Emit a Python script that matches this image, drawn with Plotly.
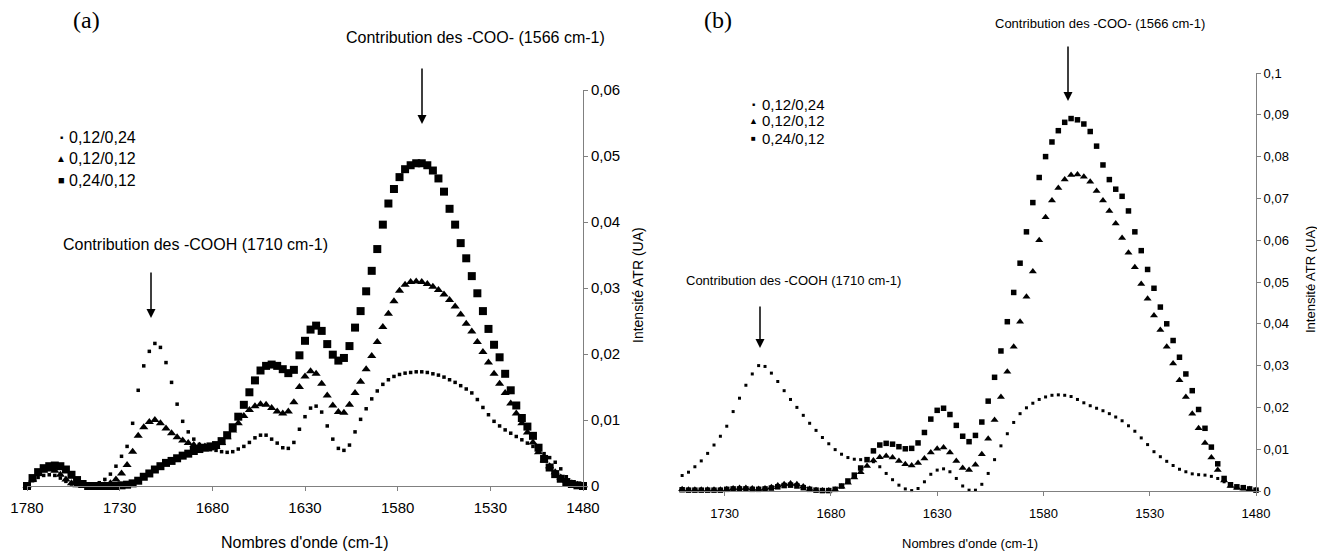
import plotly.graph_objects as go

# wavenumbers (cm-1), one reading every 3 cm-1
nu = [1780, 1777, 1774, 1771, 1768, 1765, 1762, 1759, 1756, 1753,
      1750, 1747, 1744, 1741, 1738, 1735, 1732, 1729, 1726, 1723,
      1720, 1717, 1714, 1711, 1708, 1705, 1702, 1699, 1696, 1693,
      1690, 1687, 1684, 1681, 1678, 1675, 1672, 1669, 1666, 1663,
      1660, 1657, 1654, 1651, 1648, 1645, 1642, 1639, 1636, 1633,
      1630, 1627, 1624, 1621, 1618, 1615, 1612, 1609, 1606, 1603,
      1600, 1597, 1594, 1591, 1588, 1585, 1582, 1579, 1576, 1573,
      1570, 1567, 1564, 1561, 1558, 1555, 1552, 1549, 1546, 1543,
      1540, 1537, 1534, 1531, 1528, 1525, 1522, 1519, 1516, 1513,
      1510, 1507, 1504, 1501, 1498, 1495, 1492, 1489, 1486, 1483,
      1480]
nu_b = nu[10:]  # panel (b) starts at 1750

# panel (a)
a_012_024 = [0, .0008, .0013, .0016, .0017, .0016, .0012, .0007, .0003, .0001,
             0, 0, .0002, .0005, .0010, .0018, .0030, .0045, .0060, .0095,
             .0145, .0182, .0204, .0216, .0210, .0187, .0157, .0124, .0098, .0082,
             .0071, .0063, .0058, .0055, .0054, .0052, .0051, .0052, .0056, .0060,
             .0066, .0073, .0077, .0077, .0071, .0065, .0058, .0057, .0066, .0086,
             .0105, .0118, .0121, .0112, .0091, .0071, .0057, .0054, .0062, .0082,
             .0101, .0117, .0132, .0144, .0154, .0161, .0166, .0169, .0171, .0172,
             .0173, .0173, .0172, .0170, .0168, .0165, .0161, .0157, .0152, .0147,
             .0141, .0131, .0119, .0108, .0098, .0091, .0085, .0080, .0075, .0070,
             .0065, .0060, .0055, .0049, .0043, .0036, .0026, .0014, .0006, .0002,
             0]
a_012_012 = [0, .0010, .0018, .0023, .0025, .0023, .0017, .0010, .0004, .0001,
             0, 0, 0, 0, .0001, .0004, .0010, .0019, .0032, .0052,
             .0076, .0089, .0097, .0100, .0095, .0087, .0080, .0074, .0069, .0065,
             .0062, .0061, .0060, .0058, .0059, .0065, .0074, .0084, .0095, .0106,
             .0115, .0121, .0124, .0123, .0118, .0113, .0110, .0113, .0127, .0150,
             .0166, .0174, .0170, .0155, .0137, .0122, .0112, .0111, .0123, .0141,
             .0158, .0177, .0197, .0218, .0241, .0261, .0280, .0296, .0305, .0309,
             .0310, .0309, .0306, .0302, .0297, .0290, .0282, .0272, .0260, .0246,
             .0234, .0218, .0203, .0187, .0170, .0155, .0141, .0125, .0110, .0095,
             .0081, .0066, .0051, .0039, .0030, .0021, .0013, .0008, .0004, .0002,
             0]
a_024_012 = [0, .0012, .0021, .0027, .0030, .0031, .0030, .0025, .0017, .0009,
             .0003, 0, 0, 0, 0, 0, 0, .0001, .0002, .0004,
             .0008, .0014, .0019, .0025, .0030, .0035, .0038, .0042, .0046, .0049,
             .0053, .0056, .0058, .0060, .0062, .0068, .0077, .0089, .0105, .0123,
             .0142, .0160, .0175, .0182, .0184, .0182, .0177, .0171, .0176, .0198,
             .0220, .0237, .0243, .0235, .0215, .0199, .0190, .0194, .0212, .0240,
             .0265, .0295, .0326, .0359, .0396, .0428, .0450, .0468, .0480, .0486,
             .0489, .0489, .0486, .0478, .0466, .0446, .0420, .0396, .0368, .0345,
             .0318, .0292, .0265, .0238, .0214, .0195, .0170, .0145, .0122, .0103,
             .0090, .0076, .0058, .0041, .0028, .0018, .0011, .0006, .0003, .0001,
             0]

# panel (b)
b_012_024 = [.0037, .0045, .0058, .0072, .0090, .0110, .0131, .0155, .0190, .0222,
             .0253, .0280, .0300, .0298, .0282, .0262, .0240, .0219, .0200, .0181,
             .0162, .0145, .0128, .0113, .0099, .0088, .0080, .0076, .0075, .0075,
             .0070, .0058, .0042, .0027, .0014, .0005, .0001, .0006, .0022, .0040,
             .0050, .0053, .0046, .0030, .0012, .0002, .0002, .0016, .0042, .0075,
             .0108, .0137, .0164, .0185, .0199, .0210, .0219, .0225, .0229, .0230,
             .0229, .0226, .0219, .0211, .0204, .0198, .0192, .0185, .0177, .0168,
             .0156, .0143, .0127, .0111, .0094, .0082, .0071, .0061, .0052, .0046,
             .0041, .0039, .0038, .0035, .0030, .0022, .0014, .0010, .0008, .0005,
             .0001]
b_012_012 = [.0004, .0003, .0003, .0003, .0003, .0003, .0003, .0004, .0006, .0007,
             .0007, .0006, .0005, .0006, .0009, .0013, .0016, .0018, .0016, .0011,
             .0005, .0002, .0001, .0001, .0003, .0010, .0020, .0032, .0045, .0060,
             .0073, .0081, .0084, .0080, .0072, .0064, .0061, .0067, .0078, .0092,
             .0101, .0104, .0092, .0072, .0055, .0050, .0063, .0088, .0125, .0170,
             .0225, .0285, .0345, .0405, .0465, .0525, .0600, .0655, .0695, .0725,
             .0745, .0756, .0757, .0752, .0740, .0718, .0695, .0670, .0640, .0605,
             .0570, .0535, .0495, .0460, .0420, .0385, .0345, .0305, .0265, .0225,
             .0185, .0150, .0115, .0080, .0050, .0025, .0012, .0008, .0006, .0004,
             .0002]
b_024_012 = [.0003, .0002, .0002, .0002, .0002, .0002, .0002, .0004, .0005, .0005,
             .0005, .0004, .0004, .0005, .0007, .0010, .0013, .0014, .0012, .0008,
             .0004, .0002, .0001, .0001, .0004, .0012, .0024, .0038, .0055, .0075,
             .0096, .0110, .0114, .0112, .0106, .0101, .0102, .0115, .0140, .0172,
             .0193, .0198, .0183, .0157, .0131, .0118, .0133, .0165, .0215, .0272,
             .0335, .0405, .0475, .0545, .0620, .0690, .0750, .0800, .0835, .0862,
             .0882, .0891, .0888, .0878, .0860, .0825, .0780, .0745, .0722, .0705,
             .0670, .0620, .0575, .0530, .0485, .0440, .0400, .0360, .0320, .0280,
             .0240, .0195, .0150, .0105, .0065, .0030, .0015, .0010, .0008, .0005,
             .0002]

ticks_x_a = [1780, 1730, 1680, 1630, 1580, 1530, 1480]
ticks_x_b = [1730, 1680, 1630, 1580, 1530, 1480]
ticks_y_a = [0, 0.01, 0.02, 0.03, 0.04, 0.05, 0.06]
labels_y_a = ["0", "0,01", "0,02", "0,03", "0,04", "0,05", "0,06"]
ticks_y_b = [0, 0.01, 0.02, 0.03, 0.04, 0.05, 0.06, 0.07, 0.08, 0.09, 0.1]
labels_y_b = ["0", "0,01", "0,02", "0,03", "0,04", "0,05", "0,06", "0,07", "0,08", "0,09", "0,1"]
series_names = ["0,12/0,24", "0,12/0,12", "0,24/0,12"]

W, H = 1325, 551
OFF = 8  # the page body adds an 8px margin around the figure
SANS = "Liberation Sans, Arial, sans-serif"
SERIF = "Liberation Serif, Times New Roman, serif"


def px(x):
    return (x - OFF) / W


def py(y):
    return 1 - (y - OFF) / H


fig = go.Figure()

# panel (a)
for ys, sym, size in [(a_012_024, "square", 3.5), (a_012_012, "triangle-up", 8), (a_024_012, "square", 8)]:
    fig.add_trace(go.Scatter(x=nu, y=ys, mode="markers", xaxis="x", yaxis="y", cliponaxis=False,
                             marker=dict(symbol=sym, size=size, color="black", line=dict(width=0)),
                             showlegend=False))
# panel (b)
for ys, sym, size in [(b_012_024, "square", 3), (b_012_012, "triangle-up", 7), (b_024_012, "square", 5.5)]:
    fig.add_trace(go.Scatter(x=nu_b, y=ys, mode="markers", xaxis="x2", yaxis="y2", cliponaxis=False,
                             marker=dict(symbol=sym, size=size, color="black", line=dict(width=0)),
                             showlegend=False))

axis_common = dict(showline=True, linecolor="#808080", linewidth=1, ticks="outside", ticklen=4,
                   tickcolor="#808080", showgrid=False, zeroline=False, automargin=False)

fig.update_layout(
    width=W, height=H,
    margin=dict(l=0, r=0, t=0, b=0),
    paper_bgcolor="white", plot_bgcolor="white",
    xaxis=dict(domain=[px(27), px(583)], range=[1780, 1480], anchor="y",
               tickvals=ticks_x_a, tickfont=dict(family=SANS, size=15, color="black"),
               ticklabelstandoff=4, **axis_common),
    yaxis=dict(domain=[py(486), py(90)], range=[0, 0.06], anchor="x", side="right",
               tickvals=ticks_y_a, ticktext=labels_y_a,
               tickfont=dict(family=SANS, size=15, color="black"), **axis_common),
    xaxis2=dict(domain=[px(680), px(1256)], range=[1751, 1480], anchor="y2",
                tickvals=ticks_x_b, tickfont=dict(family=SANS, size=13, color="black"),
                ticklabelstandoff=6, **axis_common),
    yaxis2=dict(domain=[py(491), py(73)], range=[0, 0.1], anchor="x2", side="right",
                tickvals=ticks_y_b, ticktext=labels_y_b,
                tickfont=dict(family=SANS, size=13, color="black"), **axis_common),
)

ann = []


def text(x, y, s, size, family=SANS, xanchor="center", angle=0):
    ann.append(dict(x=px(x), y=py(y), xref="paper", yref="paper", text=s, showarrow=False,
                    xanchor=xanchor, yanchor="middle", textangle=angle,
                    font=dict(family=family, size=size, color="black")))


def arrow(x, y_top, y_tip):
    ann.append(dict(x=px(x), y=py(y_tip), xref="paper", yref="paper", text="",
                    showarrow=True, ax=0, ay=-(y_tip - y_top), axref="pixel", ayref="pixel",
                    arrowhead=2, arrowsize=1.2, arrowwidth=1.5, arrowcolor="black"))


# panel (a) texts
text(86, 20, "(a)", 24, SERIF)
text(475, 38, "Contribution des -COO- (1566 cm-1)", 16)
arrow(422, 67, 124)
text(195, 244, "Contribution des -COOH (1710 cm-1)", 16)
arrow(151, 271, 318)
text(305, 542, "Nombres d'onde (cm-1)", 16)
text(638, 285, "Intensité ATR (UA)", 14, angle=-90)
# legend (a)
for (y, glyph, gsize), name in zip([(137, "■", 5), (158, "▲", 10), (180, "■", 11)], series_names):
    text(61, y, glyph, gsize)
    text(67, y, name, 16, xanchor="left")

# panel (b) texts
text(718, 20, "(b)", 24, SERIF)
text(1100, 23, "Contribution des -COO- (1566 cm-1)", 13)
arrow(1068, 45, 101)
text(793, 280, "Contribution des -COOH (1710 cm-1)", 13)
arrow(760, 305, 348)
text(970, 543, "Nombres d'onde (cm-1)", 13)
text(1310, 280, "Intensité ATR (UA)", 13, angle=-90)
# legend (b)
for (y, glyph, gsize), name in zip([(104, "■", 5), (121, "▲", 9), (138, "■", 8)], series_names):
    text(753, y, glyph, gsize)
    text(760, y, name, 15, xanchor="left")

fig.update_layout(annotations=ann)

fig.write_html("out.html")
